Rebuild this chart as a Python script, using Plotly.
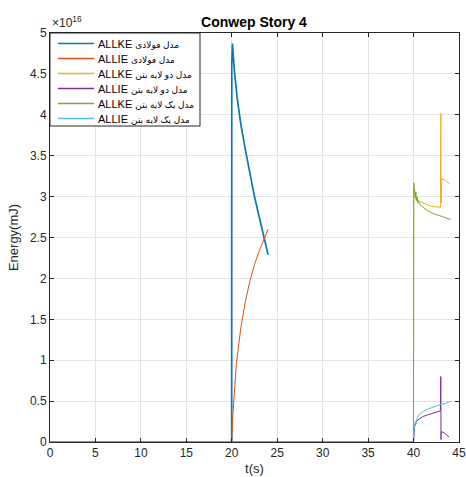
import plotly.graph_objects as go

# Values in units of 1e16 mJ
t_steel_ke = [0, 19.99, 20.0, 20.07, 20.15, 20.3, 20.6, 21.0, 21.5, 22.0, 22.5, 23.0, 23.5, 24.0]
v_steel_ke = [0, 0, 4.6, 4.87, 4.75, 4.52, 4.2, 3.88, 3.57, 3.28, 3.0, 2.76, 2.52, 2.29]

t_steel_ie = [0, 20.0, 20.1, 20.3, 20.5, 21.0, 21.5, 22.0, 22.5, 23.0, 23.5, 24.0]
v_steel_ie = [0, 0, 0.3, 0.7, 0.95, 1.4, 1.72, 1.97, 2.17, 2.33, 2.47, 2.6]

t_two_ke = [0, 39.99, 40.02, 40.1, 40.2, 40.3, 40.5, 41.0, 41.5, 42.0, 42.5, 42.95, 43.0, 43.03, 43.06, 43.1, 43.5, 44.0]
v_two_ke = [0, 0, 3.1, 3.02, 3.04, 2.98, 2.95, 2.92, 2.9, 2.88, 2.87, 2.87, 4.02, 2.92, 3.25, 3.22, 3.2, 3.15]

t_two_ie = [0, 40.0, 40.1, 40.3, 40.6, 41.0, 41.5, 42.0, 42.5, 42.95, 43.0, 43.02, 43.05, 43.5, 43.9]
v_two_ie = [0, 0, 0.18, 0.25, 0.28, 0.31, 0.33, 0.35, 0.37, 0.38, 0.8, 0.03, 0.13, 0.1, 0.06]

t_one_ke = [0, 39.99, 40.02, 40.1, 40.2, 40.25, 40.3, 40.4, 40.45, 40.5, 40.7, 41.0, 41.5, 42.0, 42.5, 43.0, 43.5, 44.1]
v_one_ke = [0, 0, 3.17, 3.05, 2.98, 3.06, 2.95, 3.0, 2.92, 2.95, 2.9, 2.87, 2.83, 2.8, 2.78, 2.76, 2.74, 2.72]

t_one_ie = [0, 40.0, 40.05, 40.2, 40.3, 40.4, 40.7, 41.0, 41.5, 42.0, 42.5, 43.0, 43.5, 44.1]
v_one_ie = [0, 0, 0.15, 0.25, 0.22, 0.3, 0.34, 0.37, 0.4, 0.42, 0.44, 0.46, 0.47, 0.5]

energy_names = ["ALLKE", "ALLIE", "ALLKE", "ALLIE", "ALLKE", "ALLIE"]
model_names = ["مدل فولادی", "مدل فولادی", "مدل دو لایه بتن",
               "مدل دو لایه بتن", "مدل یک لایه بتن", "مدل یک لایه بتن"]
colors = ["#0a78b4", "#D95319", "#EDB120", "#7E2F8E", "#77AC30", "#4DBEEE"]
widths = [1.7, 1, 1, 1, 1, 1]
series = [(t_steel_ke, v_steel_ke), (t_steel_ie, v_steel_ie), (t_two_ke, v_two_ke),
          (t_two_ie, v_two_ie), (t_one_ke, v_one_ke), (t_one_ie, v_one_ie)]

x_ticks = [0, 5, 10, 15, 20, 25, 30, 35, 40, 45]
y_ticks = [0, 0.5, 1, 1.5, 2, 2.5, 3, 3.5, 4, 4.5, 5]

fig = go.Figure()
for (t, v), en, mn, c, w in zip(series, energy_names, model_names, colors, widths):
    fig.add_trace(go.Scatter(x=t, y=v, mode="lines", name=f"{en} {mn}",
                             line=dict(color=c, width=w), showlegend=False))

W, H = 466, 477
ML, MR, MT, MB = 50, 7, 33, 35
PW, PH = W - ML - MR, H - MT - MB


def px_x(p):
    return (p - ML) / PW


def px_y(p):
    return (H - MB - p) / PH


font_family = "Liberation Sans, Arial, DejaVu Sans, sans-serif"
fig.update_layout(
    width=W, height=H,
    margin=dict(l=ML, r=MR, t=MT, b=MB),
    paper_bgcolor="white", plot_bgcolor="white",
    font=dict(family=font_family, size=12, color="#262626"),
    title=dict(text="<b>Conwep Story 4</b>", x=0.545, xanchor="center",
               y=1 - 22 / H, yanchor="middle", font=dict(size=14, color="black")),
    showlegend=False,
    xaxis=dict(range=[0, 45], tickvals=x_ticks, ticks="inside", ticklen=4,
               tickcolor="#262626", showline=True, linecolor="#262626", mirror="ticks",
               showgrid=True, gridcolor="#e3e3e3", zeroline=False, automargin=False,
               title=dict(text="t(s)", standoff=4, font=dict(size=13)),
               tickfont=dict(size=12)),
    yaxis=dict(range=[0, 5], tickvals=y_ticks, ticktext=[f"{v:g}" for v in y_ticks],
               ticks="inside", ticklen=4,
               tickcolor="#262626", showline=True, linecolor="#262626", mirror="ticks",
               showgrid=True, gridcolor="#e3e3e3", zeroline=False, automargin=False,
               title=dict(text="Energy(mJ)", standoff=8, font=dict(size=13)),
               tickfont=dict(size=12)),
)
fig.add_annotation(text="×10<sup>16</sup>", xref="paper", yref="paper", x=0.0, y=1.0,
                   xanchor="left", yanchor="bottom", showarrow=False,
                   font=dict(size=12, color="#262626"), yshift=1)

# Legend box drawn to match the compact MATLAB legend
fig.add_shape(type="rect", xref="paper", yref="paper",
              x0=px_x(50), x1=px_x(200), y0=px_y(126), y1=px_y(33),
              fillcolor="white", line=dict(color="#262626", width=1), layer="above")
for i, (en, mn, c) in enumerate(zip(energy_names, model_names, colors)):
    ry = 43.5 + 15.0 * i
    fig.add_shape(type="line", xref="paper", yref="paper",
                  x0=px_x(58), x1=px_x(94), y0=px_y(ry), y1=px_y(ry),
                  line=dict(color=c, width=1.3), layer="above")
    fig.add_annotation(xref="paper", yref="paper", x=px_x(96), y=px_y(ry),
                       xanchor="left", yanchor="middle", showarrow=False,
                       text=f"{en} <span style='font-size:9px'>{mn}</span>",
                       font=dict(size=11, color="black"))
fig.write_html("out.html")
